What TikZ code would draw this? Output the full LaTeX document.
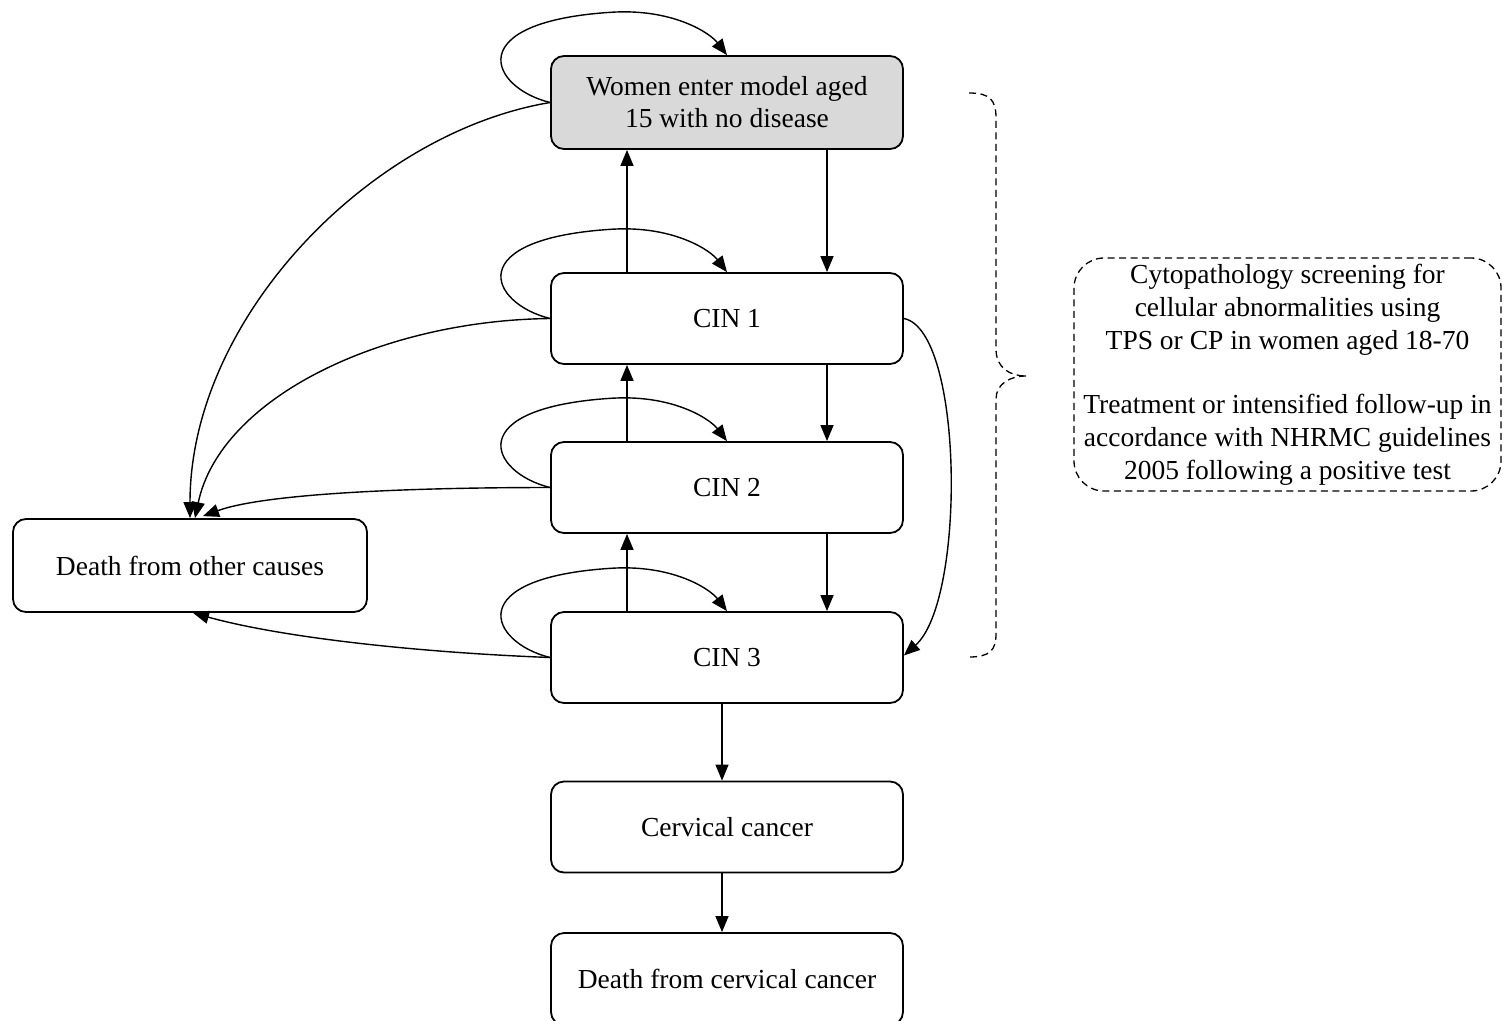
\documentclass[tikz,border=0pt]{standalone}
\usepackage{fontspec}
\setmainfont{Liberation Serif}
\usetikzlibrary{arrows.meta,calc}
\definecolor{boxgray}{HTML}{D9D9D9}
\begin{document}
\begin{tikzpicture}[x=1pt,y=-1pt,
  box/.style={draw, line width=1.8pt, rounded corners=13pt, minimum width=352pt,
    minimum height=91pt, inner sep=0pt, align=center,
    font=\fontsize{27.5}{32}\selectfont},
  arr/.style={line width=1.4pt, -{Triangle[length=16pt,width=13pt]}},
  dashline/.style={line width=1.3pt, dash pattern=on 7pt off 4.5pt},
  note/.style={draw, dashline, rounded corners=30pt, minimum width=427pt,
    minimum height=233pt, inner sep=0pt, align=center,
    font=\fontsize{27.5}{33}\selectfont}]
\useasboundingbox (0,0) rectangle (1503,1020);

\node[box, fill=boxgray, minimum height=93pt] (start) at (727,102.5) {Women enter model aged\\15 with no disease};
\node[box] (cin1) at (727,318.5) {CIN 1};
\node[box] (cin2) at (727,487.5) {CIN 2};
\node[box] (cin3) at (727,657.5) {CIN 3};
\node[box] (cancer) at (727,827) {Cervical cancer};
\node[box, minimum height=92pt] (deathc) at (727,979) {Death from cervical cancer};
\node[box, minimum width=354pt, minimum height=93pt] (deatho) at (190,565.5) {Death from other causes};
\node[note] (scr) at (1287.5,374.5) {Cytopathology screening for\\cellular abnormalities using\\TPS or CP in women aged 18-70\\[31pt]Treatment or intensified follow-up in\\accordance with NHRMC guidelines\\2005 following a positive test};

% self loops
\foreach \n in {start,cin1,cin2,cin3}{
  \draw[arr] (\n.west) .. controls +(-61,-15) and +(-154,9) .. ($(\n.north)+(-113,-43)$)
     .. controls +(60,-3) and +(-17,-22) .. (\n.north);
}

% vertical transitions
\draw[arr] ([xshift=100pt]start.south) -- ([xshift=100pt]cin1.north);
\draw[arr] ([xshift=-100pt]cin1.north) -- ([xshift=-100pt]start.south);
\draw[arr] ([xshift=100pt]cin1.south) -- ([xshift=100pt]cin2.north);
\draw[arr] ([xshift=-100pt]cin2.north) -- ([xshift=-100pt]cin1.south);
\draw[arr] ([xshift=100pt]cin2.south) -- ([xshift=100pt]cin3.north);
\draw[arr] ([xshift=-100pt]cin3.north) -- ([xshift=-100pt]cin2.south);
\draw[arr] ([xshift=-5pt]cin3.south) -- ([xshift=-5pt]cancer.north);
\draw[arr] ([xshift=-5pt]cancer.south) -- ([xshift=-5pt]deathc.north);

% CIN1 -> CIN3 on the right
\draw[arr] (cin1.east) .. controls +(60,12) and +(62,-55) .. ([yshift=2pt]cin3.east);

% to death from other causes
\draw[arr] (start.west) .. controls +(-180,30) and +(0,-200) .. (deatho.north);
\draw[arr] (cin1.west) .. controls +(-171,2) and +(25,-119) .. ([xshift=5pt]deatho.north);
\draw[arr] (cin2.west) .. controls +(-150,0) and +(60,-22) .. ([xshift=13pt,yshift=2pt]deatho.north);
\draw[arr] (cin3.west) .. controls +(-130,-5) and +(90,25) .. ([xshift=3pt]deatho.south);

% dashed brace
\draw[dashline] (969,93) .. controls (990,93) and (996,100) .. (996,118) -- (996,349)
   .. controls (996,368) and (1010,376) .. (1026,376);
\draw[dashline] (1026,376) .. controls (1010,376) and (996,384) .. (996,399) -- (996,634)
   .. controls (996,650) and (990,657) .. (969,657);
\end{tikzpicture}
\end{document}
